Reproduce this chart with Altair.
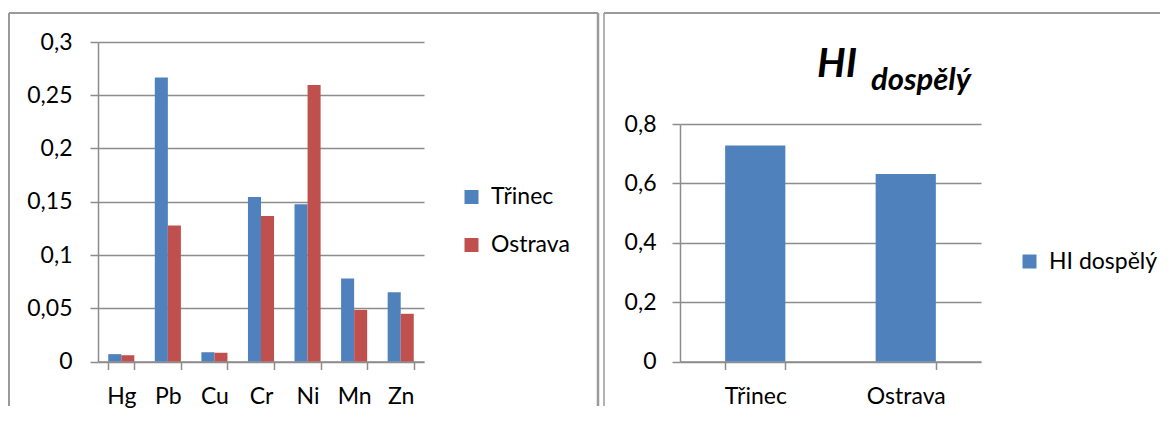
import altair as alt
import pandas as pd

# ---- data ----
elements = ["Hg", "Pb", "Cu", "Cr", "Ni", "Mn", "Zn"]
trinec = [0.0069, 0.2666, 0.0087, 0.1544, 0.1476, 0.078, 0.0651]
ostrava = [0.0059, 0.1278, 0.0081, 0.1366, 0.2597, 0.0485, 0.0448]
cities = ["Třinec", "Ostrava"]
hi_values = [0.728, 0.632]
hi_series = "HI dospělý"
left_ticks = [0, 0.05, 0.1, 0.15, 0.2, 0.25, 0.3]
right_ticks = [0, 0.2, 0.4, 0.6, 0.8]

BLUE = "#4F81BD"
RED = "#C0504D"
GRAY = "#8c8c8c"
BORDER = "#9a9a9a"
FONT = "Lato"

rows = []
for i, el in enumerate(elements):
    rows.append({"element": el, "city": cities[0], "value": trinec[i]})
    rows.append({"element": el, "city": cities[1], "value": ostrava[i]})
df_left = pd.DataFrame(rows)
df_right = pd.DataFrame({"city": cities, "value": hi_values, "series": [hi_series] * len(cities)})
one = pd.DataFrame({"k": [0]})

label_expr = "replace(format(datum.value, '~g'), '.', ',')"

H = 319.5  # common plot height

# ---- left panel ----
LW = 326
left_bars = alt.Chart(df_left).mark_bar().encode(
    x=alt.X("element:N", sort=elements,
            scale=alt.Scale(paddingInner=0.44, paddingOuter=0.22),
            axis=alt.Axis(title=None, labelAngle=0, tickBand="extent", grid=False,
                          labelPadding=15.5, labelBaseline="top")),
    xOffset=alt.XOffset("city:N", sort=cities),
    y=alt.Y("value:Q", scale=alt.Scale(domain=[0, 0.3], nice=False),
            axis=alt.Axis(title=None, values=left_ticks, labelExpr=label_expr,
                          grid=True, labelPadding=18)),
    color=alt.Color("city:N", sort=cities,
                    scale=alt.Scale(domain=cities, range=[BLUE, RED]),
                    legend=alt.Legend(orient="none", legendX=362, legendY=143.5, title=None,
                                      symbolType="square", symbolSize=196,
                                      symbolStrokeWidth=0, labelFontSize=23, labelFont=FONT,
                                      labelColor="black", rowPadding=24, labelOffset=8,
                                      padding=0)),
)
l_top = alt.Chart(one).mark_rule(color=BORDER, strokeWidth=2).encode(
    x=alt.value(-89), x2=alt.value(500), y=alt.value(-29))
l_left = alt.Chart(one).mark_rule(color=BORDER, strokeWidth=2).encode(
    x=alt.value(-89), y=alt.value(-29), y2=alt.value(364))
l_right = alt.Chart(one).mark_rule(color=BORDER, strokeWidth=2.5).encode(
    x=alt.value(500), y=alt.value(-29), y2=alt.value(364))
left = alt.layer(left_bars, l_top, l_left, l_right).properties(width=LW, height=H)

# ---- right panel ----
RW = 301
RTOP = 82  # where 0,8 sits inside the common plot height
right_bars = alt.Chart(df_right).mark_bar().encode(
    x=alt.X("city:N", sort=cities,
            scale=alt.Scale(paddingInner=0.6, paddingOuter=0.3),
            axis=alt.Axis(title=None, labelAngle=0, tickBand="extent", grid=False,
                          labelPadding=15.5, labelBaseline="top")),
    y=alt.Y("value:Q", scale=alt.Scale(domain=[0, 0.8], nice=False, range=[H, RTOP]),
            axis=alt.Axis(title=None, values=right_ticks, labelExpr=label_expr,
                          grid=True, labelPadding=16)),
    color=alt.Color("series:N",
                    scale=alt.Scale(domain=[hi_series], range=[BLUE]),
                    legend=alt.Legend(orient="none", legendX=338, legendY=208, title=None,
                                      symbolType="square", symbolSize=196,
                                      symbolStrokeWidth=0, labelFontSize=23, labelFont=FONT,
                                      labelColor="black", labelOffset=8, padding=0)),
)
t_main = alt.Chart(one).mark_text(text="HI", font=FONT, fontSize=40, fontWeight="bold",
                                  fontStyle="italic", align="left", baseline="alphabetic",
                                  color="black").encode(x=alt.value(137), y=alt.value(34.7))
t_sub = alt.Chart(one).mark_text(text="dospělý", font=FONT, fontSize=31, fontWeight="bold",
                                 fontStyle="italic", align="left", baseline="alphabetic",
                                 color="black").encode(x=alt.value(191), y=alt.value(48.3))
r_top = alt.Chart(one).mark_rule(color=BORDER, strokeWidth=2).encode(
    x=alt.value(-76), x2=alt.value(480), y=alt.value(-29))
r_left = alt.Chart(one).mark_rule(color=BORDER, strokeWidth=1.5).encode(
    x=alt.value(-76), y=alt.value(-29), y2=alt.value(364))
right = alt.layer(right_bars, t_main, t_sub, r_top, r_left).properties(width=RW, height=H)

chart = alt.hconcat(left, right, spacing=3).resolve_scale(
    color="independent"
).resolve_legend(color="independent").properties(
    padding={"top": 3, "left": 0, "right": 0, "bottom": 0}
).configure_view(stroke=None).configure_axis(
    labelFont=FONT, labelFontSize=23, labelColor="black",
    gridColor=GRAY, gridWidth=1.5, domainColor=GRAY, domainWidth=1.5,
    tickColor=GRAY, tickWidth=1.5, tickSize=8
).configure_axisY(labelBaseline="middle")

chart.save("out.html", embed_options={"renderer": "svg", "actions": False})
